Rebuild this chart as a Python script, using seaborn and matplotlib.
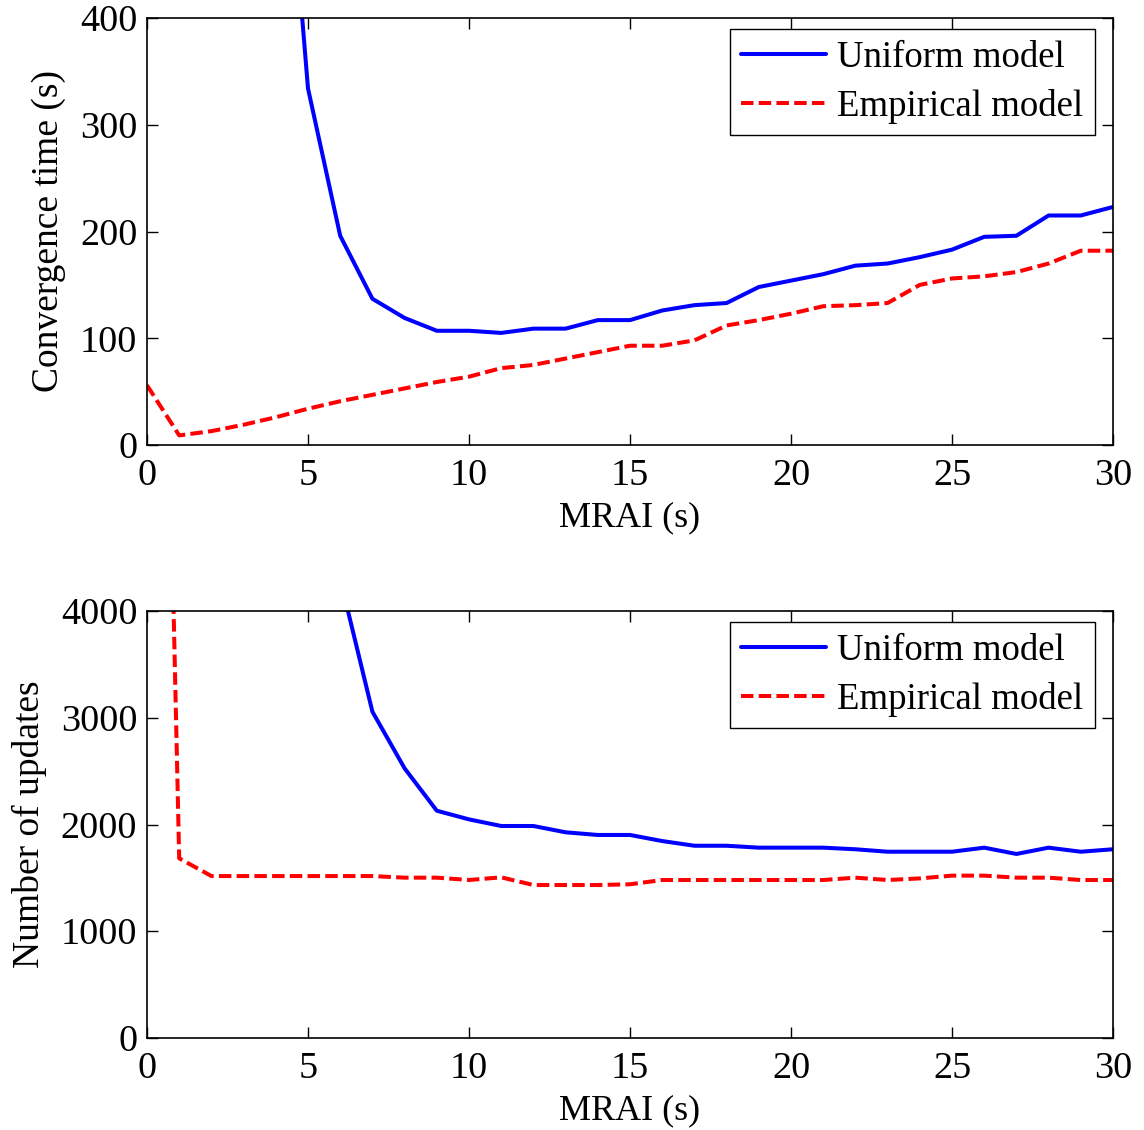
import numpy as np
import pandas as pd
import matplotlib
matplotlib.use("Agg")
import matplotlib.pyplot as plt
import seaborn as sns

mrai = list(range(0, 31))

conv_uniform = [5000, 3000, 1800, 1100, 700, 334, 196, 137, 119, 107, 107, 105, 109, 109, 117, 117,
                126, 131, 133, 148, 154, 160, 168, 170, 176, 183, 195, 196, 215, 215, 223]
conv_empirical = [56, 9, 13, 19, 26, 34, 41, 47, 53, 59, 64, 72, 75, 81, 87, 93,
                  93, 98, 112, 117, 123, 130, 131, 133, 150, 156, 158, 162, 170, 182, 182]

upd_uniform = [40000, 25000, 15000, 10000, 7000, 5500, 4300, 3057, 2526, 2129, 2048, 1986, 1986, 1927, 1902, 1902,
               1845, 1801, 1801, 1783, 1783, 1783, 1768, 1745, 1745, 1745, 1783, 1724, 1783, 1745, 1768]
upd_empirical = [15000, 1683, 1517, 1517, 1517, 1517, 1517, 1517, 1502, 1502, 1480, 1505, 1433, 1433, 1433, 1440,
                 1480, 1480, 1480, 1480, 1480, 1480, 1502, 1480, 1495, 1521, 1521, 1502, 1502, 1480, 1480]

series_names = ["Uniform model", "Empirical model"]
x_label = "MRAI (s)"
y_labels = ["Convergence time (s)", "Number of updates"]
y_limits = [(0, 400), (0, 4000)]
y_ticks = [[0, 100, 200, 300, 400], [0, 1000, 2000, 3000, 4000]]
x_ticks = [0, 5, 10, 15, 20, 25, 30]

sns.set_theme(style="ticks")
plt.rcParams['font.family'] = ['Liberation Serif', 'DejaVu Serif']
plt.rcParams['text.color'] = 'black'
plt.rcParams['axes.labelcolor'] = 'black'
plt.rcParams['xtick.color'] = 'black'
plt.rcParams['ytick.color'] = 'black'

fig = plt.figure(figsize=(11.44, 11.30), dpi=100)
ax1 = fig.add_axes([147/1144, 1 - 445/1130, 966/1144, 427/1130])
ax2 = fig.add_axes([147/1144, 1 - 1038/1130, 966/1144, 427/1130])

panels = [(ax1, conv_uniform, conv_empirical), (ax2, upd_uniform, upd_empirical)]
tick_fs = 27.5
lab_fs = 27
leg_fs = 26.5
for i, (ax, uni, emp) in enumerate(panels):
    df = pd.DataFrame({"x": mrai * 2,
                       "y": uni + emp,
                       "model": [series_names[0]] * len(mrai) + [series_names[1]] * len(mrai)})
    sns.lineplot(data=df, x="x", y="y", hue="model", style="model",
                 palette={series_names[0]: "#0000ff", series_names[1]: "#ff0000"},
                 dashes={series_names[0]: "", series_names[1]: (3.1, 1.3)},
                 linewidth=2.9, ax=ax, legend=True)
    ax.set_xlim(0, 30)
    ax.set_ylim(*y_limits[i])
    ax.set_xticks(x_ticks)
    ax.set_yticks(y_ticks[i])
    ax.tick_params(direction="in", length=8, width=1, top=True, right=True,
                   labelsize=tick_fs, colors="black")
    ax.tick_params(axis="x", pad=10)
    ax.tick_params(axis="y", pad=7)
    for sp in ax.spines.values():
        sp.set_visible(True)
        sp.set_color("black")
        sp.set_linewidth(1.2)
    ax.set_xlabel(x_label, fontsize=lab_fs - 1, labelpad=6, color="black")
    ax.set_ylabel(y_labels[i], fontsize=lab_fs, labelpad=10, color="black")
    leg = ax.legend(loc="upper right", bbox_to_anchor=(0.9814, 0.9742), borderaxespad=0,
                    fontsize=leg_fs, frameon=True, fancybox=False,
                    edgecolor="black", framealpha=1, handlelength=2.3,
                    borderpad=0.32, labelspacing=0.36, handletextpad=0.3)
    leg.get_frame().set_linewidth(1.0)
    for t in leg.get_texts():
        t.set_color("black")

fig.savefig("out.png", dpi=100)
